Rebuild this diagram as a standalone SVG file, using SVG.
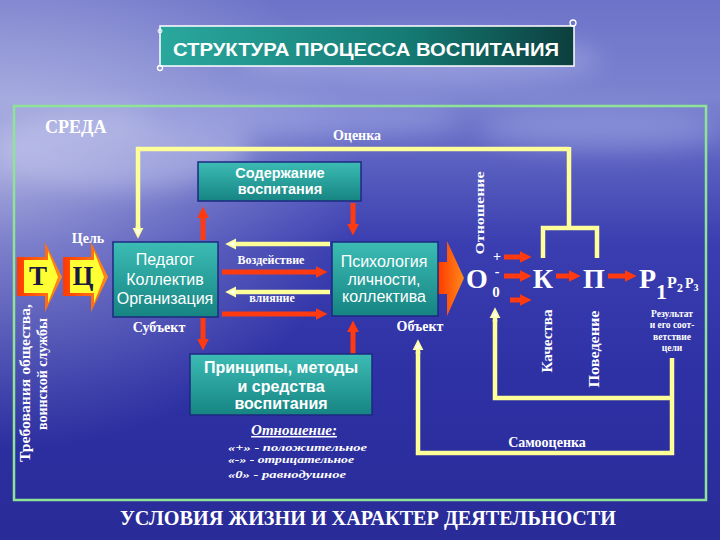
<svg xmlns="http://www.w3.org/2000/svg" width="720" height="540" viewBox="0 0 720 540">
<defs>
<linearGradient id="bg" x1="0" y1="0" x2="0" y2="1">
<stop offset="0" stop-color="#6d73c8"/>
<stop offset="0.18" stop-color="#7c83d0"/>
<stop offset="0.3" stop-color="#5a60c0"/>
<stop offset="0.45" stop-color="#3a3eb0"/>
<stop offset="0.7" stop-color="#2e31a4"/>
<stop offset="1" stop-color="#292b98"/>
</linearGradient>
<radialGradient id="haze" cx="0" cy="0.33" r="0.5">
<stop offset="0" stop-color="#ffffff" stop-opacity="0.45"/>
<stop offset="1" stop-color="#ffffff" stop-opacity="0"/>
</radialGradient>
<linearGradient id="teal" x1="0" y1="0" x2="0" y2="1">
<stop offset="0" stop-color="#3cbcb4"/>
<stop offset="1" stop-color="#168482"/>
</linearGradient>
<linearGradient id="banner" x1="0" y1="0" x2="1" y2="0">
<stop offset="0" stop-color="#2aa89e"/>
<stop offset="0.6" stop-color="#157a74"/>
<stop offset="1" stop-color="#0c3f3e"/>
</linearGradient>
<linearGradient id="orng" x1="0" y1="0" x2="1" y2="0">
<stop offset="0" stop-color="#ff3a00"/>
<stop offset="1" stop-color="#ff8a1a"/>
</linearGradient>
<filter id="blur" x="-50%" y="-50%" width="200%" height="200%"><feGaussianBlur stdDeviation="12"/></filter>
<marker id="ra" viewBox="0 0 10 10" refX="2" refY="5" markerUnits="userSpaceOnUse" markerWidth="12" markerHeight="13" orient="auto">
<path d="M0,0 L10,5 L0,10 z" fill="#ff3a10"/>
</marker>
<marker id="ya" viewBox="0 0 10 10" refX="2" refY="5" markerUnits="userSpaceOnUse" markerWidth="11" markerHeight="14" orient="auto">
<path d="M0,0 L10,5 L0,10 z" fill="#ffffa8"/>
<path d="M1.5,3 L6,5 L1.5,7 z" fill="#ffffff"/>
</marker>
<style>
.ser{font-family:"Liberation Serif","DejaVu Serif",serif;font-weight:bold;fill:#ffffff}
.san{font-family:"Liberation Sans","DejaVu Sans",sans-serif;fill:#ffffff}
.box{fill:url(#teal);stroke:#1c2a80;stroke-width:1.5}
.red{stroke:#ff3a10;stroke-width:5;fill:none;marker-end:url(#ra)}
.yel{stroke:#ffff99;stroke-width:4.5;fill:none;stroke-linejoin:miter}
.ya{marker-end:url(#ya)}
.it{font-family:"Liberation Serif","DejaVu Serif",serif;font-style:italic;font-weight:bold;fill:#ffffff}
</style>
</defs>
<rect width="720" height="540" fill="url(#bg)"/>
<rect width="720" height="540" fill="url(#haze)"/>
<g filter="url(#blur)" opacity="0.35">
<ellipse cx="420" cy="60" rx="180" ry="25" fill="#c8ccf4"/>
<ellipse cx="120" cy="150" rx="130" ry="40" fill="#dfe2fa"/>
<ellipse cx="600" cy="130" rx="120" ry="20" fill="#b8bdf0"/>
<ellipse cx="300" cy="120" rx="160" ry="18" fill="#b8bdf0"/>
</g>

<!-- frame -->
<rect x="14" y="106" width="692" height="394" fill="none" stroke="#8ee496" stroke-width="2.5"/>

<!-- title -->
<g id="title">
<rect x="160" y="26" width="414" height="40" fill="url(#banner)" stroke="#ffffff" stroke-width="1.5"/>
<circle cx="573" cy="23" r="3" fill="none" stroke="#ffffff" stroke-width="1.3"/>
<circle cx="160" cy="68" r="2.5" fill="none" stroke="#ffffff" stroke-width="1.3"/>
<circle cx="160" cy="31" r="2" fill="none" stroke="#ffffff" stroke-width="1"/>
<text class="san" x="366" y="56" font-size="18" font-weight="bold" text-anchor="middle" textLength="386" lengthAdjust="spacingAndGlyphs">СТРУКТУРА ПРОЦЕССА ВОСПИТАНИЯ</text>
</g>

<!-- connectors -->
<g id="connectors">
<path class="yel" d="M569,149 L138,149 L138,232"/>
<path class="yel ya" d="M138,226 L138,230"/>
<path class="yel" d="M569,147 L569,228 M543,258 L543,228 L597,228 L597,258"/>
<path class="yel" d="M672,358 L672,453 L418,453 L418,352"/>
<path class="yel ya" d="M418,354 L418,348"/>
<path class="yel" d="M672,398 L495,398 L495,320"/>
<path class="yel ya" d="M495,322 L495,316"/>

<path class="yel ya" d="M330,244 L234,244"/>
<path class="yel ya" d="M330,292 L234,292"/>
<path class="red" d="M222,272 L318,272"/>
<path class="red" d="M222,314 L318,314"/>

<path class="red" d="M203,240 L203,216"/>
<path class="red" d="M353,203 L353,226"/>
<path class="red" d="M203,318 L203,341"/>
<path class="red" d="M353,354 L353,330"/>

<path class="red" d="M504,257 L522,257"/>
<path class="red" d="M504,276 L522,276"/>
<path class="red" d="M510,300 L522,300"/>
<path class="red" d="M556,276 L571,276"/>
<path class="red" d="M608,276 L627,276"/>

<polygon points="438,262 447,262 447,241 464,278 447,316 447,294 438,294" fill="url(#orng)"/>
</g>

<!-- labels -->
<text class="ser" x="45" y="133" font-size="18">СРЕДА</text>
<text class="ser" x="357" y="140" font-size="14" text-anchor="middle">Оценка</text>
<text class="ser" x="88" y="243" font-size="14" text-anchor="middle">Цель</text>

<g id="t-arrow">
<polygon points="17,257 45,257 45,242 62,277 45,312 45,296 17,296" fill="url(#orng)"/>
<polygon points="24,260 48,260 48,251 58,277 48,303 48,293 24,293" fill="#ffff33"/>
<text class="ser" x="38" y="285" font-size="27" text-anchor="middle" style="fill:#1a1a40">Т</text>
</g>
<g id="c-arrow">
<polygon points="63,257 91,257 91,242 108,277 91,312 91,296 63,296" fill="url(#orng)"/>
<polygon points="70,260 94,260 94,251 104,277 94,303 94,293 70,293" fill="#ffff33"/>
<text class="ser" x="83" y="285" font-size="27" text-anchor="middle" style="fill:#1a1a40">Ц</text>
</g>

<g id="req">
<text class="ser" transform="translate(30,383) rotate(-90)" font-size="14" text-anchor="middle" textLength="158" lengthAdjust="spacingAndGlyphs">Требования общества,</text>
<text class="ser" transform="translate(47,374) rotate(-90)" font-size="14" text-anchor="middle" textLength="112" lengthAdjust="spacingAndGlyphs">воинской службы</text>
</g>

<g id="content">
<rect class="box" x="198" y="162" width="163" height="39"/>
<text class="san" x="280" y="178" font-size="14.5" font-weight="bold" text-anchor="middle">Содержание</text>
<text class="san" x="280" y="194" font-size="14.5" font-weight="bold" text-anchor="middle">воспитания</text>
</g>

<g id="subject">
<rect class="box" x="113" y="242" width="105" height="75"/>
<text class="san" x="165" y="265" font-size="16" text-anchor="middle" fill="#e4f4f4">Педагог</text>
<text class="san" x="165" y="285" font-size="16" text-anchor="middle" fill="#e4f4f4">Коллектив</text>
<text class="san" x="165" y="304" font-size="16" text-anchor="middle" fill="#e4f4f4">Организация</text>
</g>
<text class="ser" x="159" y="332" font-size="14" text-anchor="middle">Субъект</text>

<text class="ser" x="271" y="264" font-size="12" text-anchor="middle">Воздействие</text>
<text class="ser" x="272" y="302" font-size="12" text-anchor="middle">влияние</text>

<g id="object">
<rect class="box" x="332" y="242" width="106" height="74"/>
<text class="san" x="384" y="267" font-size="16" text-anchor="middle" fill="#e4f4f4">Психология</text>
<text class="san" x="384" y="285" font-size="16" text-anchor="middle" fill="#e4f4f4">личности,</text>
<text class="san" x="384" y="302" font-size="16" text-anchor="middle" fill="#e4f4f4">коллектива</text>
</g>
<text class="ser" x="420" y="331" font-size="14" text-anchor="middle">Объект</text>

<g id="methods">
<rect class="box" x="190" y="354" width="182" height="61"/>
<text class="san" x="281" y="373" font-size="16" font-weight="bold" text-anchor="middle">Принципы, методы</text>
<text class="san" x="281" y="392" font-size="16" font-weight="bold" text-anchor="middle">и средства</text>
<text class="san" x="281" y="409" font-size="16" font-weight="bold" text-anchor="middle">воспитания</text>
</g>

<g id="legend">
<text class="it" x="294" y="435" font-size="15" text-anchor="middle" text-decoration="underline">Отношение:</text>
<text class="it" x="228" y="451" font-size="11" textLength="139" lengthAdjust="spacingAndGlyphs">«+» -  положительное</text>
<text class="it" x="228" y="463" font-size="11" textLength="126" lengthAdjust="spacingAndGlyphs">«-» - отрицательное</text>
<text class="it" x="228" y="478" font-size="11" textLength="118" lengthAdjust="spacingAndGlyphs">«0» - равнодушное</text>
</g>

<g id="attitude">
<text class="ser" transform="translate(484,213) rotate(-90)" font-size="13.5" text-anchor="middle" textLength="83" lengthAdjust="spacingAndGlyphs">Отношение</text>
<text class="ser" x="477" y="288" font-size="28" text-anchor="middle">О</text>
<text class="ser" x="497" y="261" font-size="14" text-anchor="middle">+</text>
<text class="ser" x="497" y="276" font-size="14" text-anchor="middle">-</text>
<text class="ser" x="496" y="297" font-size="15" text-anchor="middle">0</text>
</g>
<g id="k">
<text class="ser" x="543" y="288" font-size="28" text-anchor="middle">К</text>
<text class="ser" transform="translate(552,341) rotate(-90)" font-size="14" text-anchor="middle" textLength="63" lengthAdjust="spacingAndGlyphs">Качества</text>
</g>
<g id="p">
<text class="ser" x="594" y="288" font-size="28" text-anchor="middle">П</text>
<text class="ser" transform="translate(599,349) rotate(-90)" font-size="14" text-anchor="middle" textLength="77" lengthAdjust="spacingAndGlyphs">Поведение</text>
</g>
<g id="r">
<text class="ser" x="639" y="288" font-size="28">Р<tspan font-size="22" dy="11">1</tspan><tspan font-size="16" dy="-11">Р</tspan><tspan font-size="12" dy="4">2</tspan><tspan font-size="14" dy="-4" dx="2">Р</tspan><tspan font-size="10" dy="3">3</tspan></text>
<text class="ser" x="672" y="317" font-size="9.5" text-anchor="middle">Результат</text>
<text class="ser" x="672" y="328" font-size="9.5" text-anchor="middle">и его соот-</text>
<text class="ser" x="672" y="340" font-size="9.5" text-anchor="middle">ветствие</text>
<text class="ser" x="672" y="351" font-size="9.5" text-anchor="middle">цели</text>
</g>

<text class="ser" x="547" y="447" font-size="14" text-anchor="middle">Самооценка</text>
<text class="ser" x="368" y="525" font-size="20" text-anchor="middle" textLength="496" lengthAdjust="spacingAndGlyphs">УСЛОВИЯ ЖИЗНИ И ХАРАКТЕР ДЕЯТЕЛЬНОСТИ</text>
</svg>
